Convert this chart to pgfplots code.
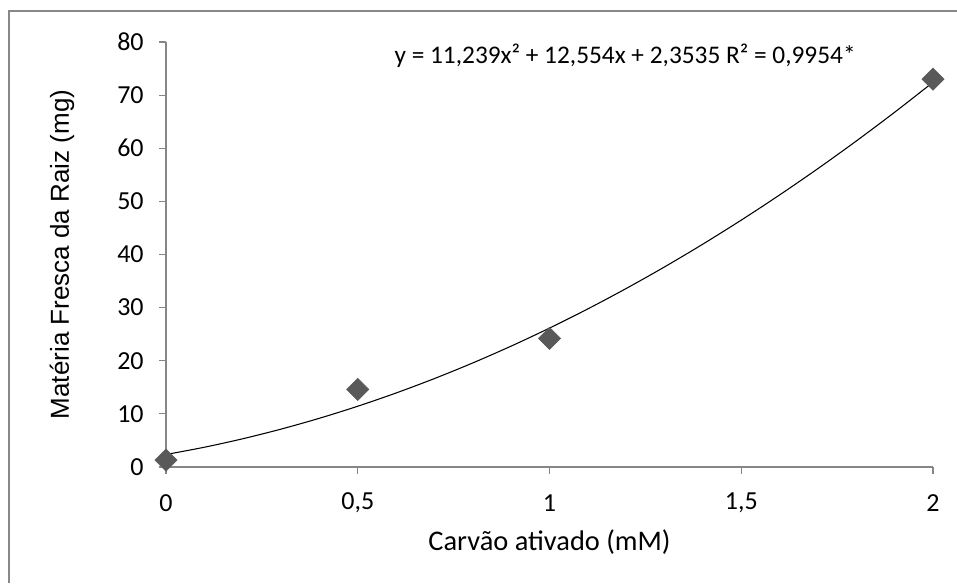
\documentclass[border=0pt]{standalone}
\usepackage{pgfplots}
\pgfplotsset{compat=1.18}
\usepackage{fontspec}
\setmainfont{Carlito}
\newfontfamily\arial{Liberation Sans}
\definecolor{axgray}{RGB}{134,134,134}
\definecolor{framegray}{RGB}{136,136,136}
\definecolor{markgray}{RGB}{89,89,89}
\begin{document}
\begin{tikzpicture}
\useasboundingbox (0,0) rectangle (717.75pt,437.25pt);
\draw[framegray, line width=1.5pt] (6.75pt,0) -- (6.75pt,429pt) -- (717.75pt,429pt);
\begin{axis}[
  at={(124.5pt,87pt)}, anchor=origin,
  scale only axis, width=575.25pt, height=318.75pt,
  xmin=0, xmax=2, ymin=0, ymax=80,
  axis x line=bottom, axis y line=left,
  axis line style={-, axgray, line width=0.9pt},
  xtick={0,0.5,1,1.5,2}, ytick={0,10,...,80},
  xticklabels={0,{0,5},1,{1,5},2},
  tick align=outside, major tick length=5.25pt,
  tick style={axgray, line width=0.9pt},
  /pgf/number format/assume math mode=true,
  ticklabel style={font=\fontsize{19.5}{22}\selectfont},
  xticklabel style={anchor=center, yshift=-21.5pt},
  yticklabel style={anchor=east, xshift=-8pt},
  xlabel={Carvão ativado (mM)},
  ylabel={Matéria Fresca da Raiz (mg)},
  xlabel style={at={(axis description cs:0.5,-0.1765)}, anchor=center, font=\fontsize{21.3}{25}\selectfont},
  ylabel style={at={(axis description cs:-0.1356,0.5)}, anchor=center, rotate=0, font=\arial\fontsize{19.5}{23}\selectfont},
  clip=false,
]
\addplot[black, line width=0.8pt, smooth, no marks] coordinates {
(0,2.3535) (0.1,3.7213) (0.2,5.3139) (0.3,7.1312) (0.4,9.1733) (0.5,11.4403)
(0.6,13.9319) (0.7,16.6484) (0.8,19.5897) (0.9,22.7557) (1.0,26.1465)
(1.1,29.7621) (1.2,33.6025) (1.3,37.6676) (1.4,41.9575) (1.5,46.4723)
(1.6,51.2117) (1.7,56.1760) (1.8,61.3651) (1.9,66.7789) (2.0,72.4175)
};
\addplot[only marks, mark=square*, mark size=5.9pt, mark options={rotate=45, fill=markgray, draw=markgray}] coordinates {
(0,1.3) (0.5,14.6) (1,24.2) (2,73.0)
};
\node[anchor=center, font=\fontsize{19}{22}\selectfont] at (axis cs:1.197,77.4)
  {y = 11,239x² + 12,554x + 2,3535 R² = 0,9954*};
\end{axis}
\end{tikzpicture}
\end{document}
